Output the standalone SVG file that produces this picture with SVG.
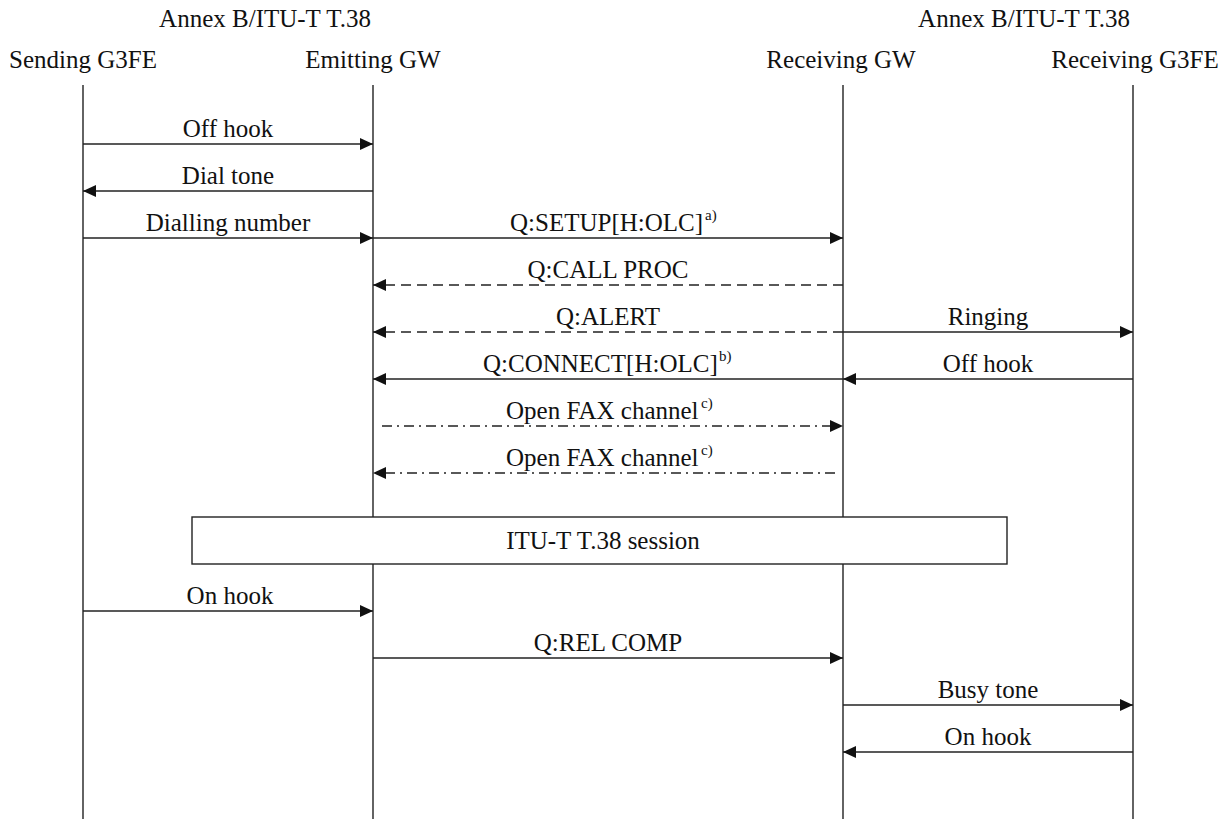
<svg xmlns="http://www.w3.org/2000/svg" width="1226" height="819" viewBox="0 0 1226 819">
<style>
text{font-family:"Liberation Serif","Times New Roman","DejaVu Serif",serif;font-size:25px;fill:#111;text-anchor:middle}
.st{text-anchor:start}
.sup{font-size:15px;text-anchor:start}
.life{stroke:#222;stroke-width:1.4;fill:none}
.msg{stroke:#222;stroke-width:1.5;fill:none;marker-end:url(#ah)}
.dash{stroke-dasharray:10 6}
.dd{stroke-dasharray:10 5 2 5}
.box{fill:#fff;stroke:#222;stroke-width:1.4}
</style>
<defs>
<marker id="ah" markerUnits="userSpaceOnUse" markerWidth="14" markerHeight="13" refX="13" refY="6" orient="auto">
<path d="M0,0 L13,6 L0,12 z" fill="#111"/>
</marker>
</defs>
<rect width="1226" height="819" fill="#fff"/>
<g id="headers">
<text x="265" y="27">Annex B/ITU-T T.38</text>
<text x="1024" y="27">Annex B/ITU-T T.38</text>
</g>
<g id="sending-g3fe">
<text x="83" y="68">Sending G3FE</text>
<line class="life" x1="83" y1="85" x2="83" y2="819"/>
</g>
<g id="emitting-gw">
<text x="373" y="68">Emitting GW</text>
<line class="life" x1="373" y1="85" x2="373" y2="819"/>
</g>
<g id="receiving-gw">
<text x="841" y="68">Receiving GW</text>
<line class="life" x1="843" y1="85" x2="843" y2="819"/>
</g>
<g id="receiving-g3fe">
<text x="1135" y="68">Receiving G3FE</text>
<line class="life" x1="1133" y1="85" x2="1133" y2="819"/>
</g>
<g id="connectors">
<line class="msg" x1="83" y1="144" x2="373" y2="144"/>
<text x="228" y="137">Off hook</text>
<line class="msg" x1="373" y1="191" x2="83" y2="191"/>
<text x="228" y="184">Dial tone</text>
<line class="msg" x1="83" y1="238" x2="373" y2="238"/>
<text x="228" y="231">Dialling number</text>
<line class="msg" x1="373" y1="238" x2="843" y2="238"/>
<text class="st" x="510" y="231">Q:SETUP[H:OLC]</text>
<text class="sup" x="705" y="220">a)</text>
<line class="msg dash" x1="843" y1="285" x2="373" y2="285"/>
<text x="608" y="278">Q:CALL PROC</text>
<line class="msg dash" x1="843" y1="332" x2="373" y2="332"/>
<text x="608" y="325">Q:ALERT</text>
<line class="msg" x1="843" y1="332" x2="1133" y2="332"/>
<text x="988" y="325">Ringing</text>
<line class="msg" x1="843" y1="379" x2="373" y2="379"/>
<text class="st" x="483" y="372">Q:CONNECT[H:OLC]</text>
<text class="sup" x="719" y="361">b)</text>
<line class="msg" x1="1133" y1="379" x2="843" y2="379"/>
<text x="988" y="372">Off hook</text>
<line class="msg dd" x1="382" y1="426" x2="843" y2="426"/>
<text class="st" x="506" y="419">Open FAX channel</text>
<text class="sup" x="701" y="408">c)</text>
<line class="msg dd" x1="835" y1="473" x2="373" y2="473"/>
<text class="st" x="506" y="466">Open FAX channel</text>
<text class="sup" x="701" y="455">c)</text>
<line class="msg" x1="83" y1="611" x2="373" y2="611"/>
<text x="230" y="604">On hook</text>
<line class="msg" x1="373" y1="658" x2="843" y2="658"/>
<text x="608" y="651">Q:REL COMP</text>
<line class="msg" x1="843" y1="705" x2="1133" y2="705"/>
<text x="988" y="698">Busy tone</text>
<line class="msg" x1="1133" y1="752" x2="843" y2="752"/>
<text x="988" y="745">On hook</text>
</g>
<g id="t38-session">
<rect class="box" x="192" y="517" width="815" height="47"/>
<text x="603" y="549">ITU-T T.38 session</text>
</g>
</svg>
